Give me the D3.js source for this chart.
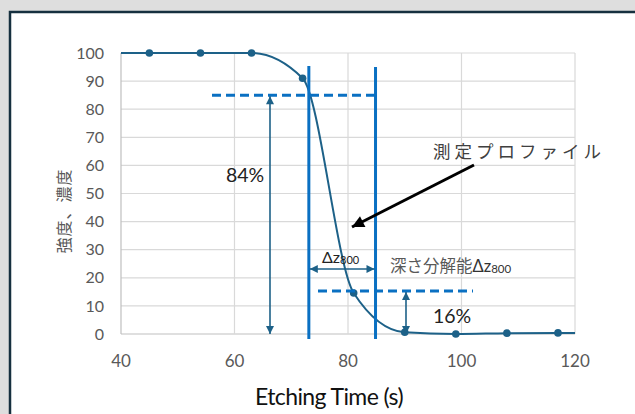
<!DOCTYPE html>
<html><head><meta charset="utf-8">
<script src="https://cdn.jsdelivr.net/npm/d3@7"></script>
<style>
html,body{margin:0;padding:0;background:#dedede;}
svg{display:block;}
</style></head>
<body>
<svg id="c" width="635" height="414"></svg>
<script>
// ---- data ----
const pointTimes = [45, 54, 63, 72, 81, 90, 99, 108, 117];
const pointValues = [100, 100, 100, 91, 14.6, 0.6, 0, 0.3, 0.4];
const curveTimes = [40, 45, 54, 63, 72, 81, 90, 99, 108, 117, 120];
const curveValues = [100, 100, 100, 100, 91, 14.6, 0.6, 0, 0.3, 0.4, 0.4];
const xTicks = [40, 60, 80, 100, 120];
const yTicks = [0, 10, 20, 30, 40, 50, 60, 70, 80, 90, 100];
const level84 = 85;      // upper dashed level
const level16 = 15.3;    // lower dashed level
const zStart = 73.1;     // Δz start time
const zEnd = 84.85;      // Δz end time

const svg = d3.select("#c");
svg.append("rect").attr("x",0).attr("y",0).attr("width",635).attr("height",414).attr("fill","#dedede");
svg.append("rect").attr("x",10).attr("y",12).attr("width",640).attr("height",420)
  .attr("fill","#fff").attr("stroke","#16303f").attr("stroke-width",2.5);

const x = d3.scaleLinear().domain([40,120]).range([121,575]);
const y = d3.scaleLinear().domain([0,100]).range([334,53]);

const grid = svg.append("g");
yTicks.forEach(t=>{
  grid.append("line").attr("x1",x(40)).attr("x2",x(120)).attr("y1",y(t)).attr("y2",y(t))
    .attr("stroke", t===0?"#bfbfbf":"#d9d9d9").attr("stroke-width",1.2);
});
xTicks.forEach(t=>{
  grid.append("line").attr("x1",x(t)).attr("x2",x(t)).attr("y1",y(0)).attr("y2",y(100))
    .attr("stroke", t===40?"#bfbfbf":"#d9d9d9").attr("stroke-width",1.2);
});

const tickFont = "Lato, 'Open Sans', sans-serif";
svg.append("g").selectAll("text").data(yTicks).join("text")
  .attr("x",104).attr("y",d=>y(d)).attr("dy","0.35em").attr("text-anchor","end")
  .attr("font-family",tickFont).attr("font-size",16).attr("fill","#595959").text(d=>d);
svg.append("g").selectAll("text").data(xTicks).join("text")
  .attr("x",d=>x(d)).attr("y",361).attr("dy","0.35em").attr("text-anchor","middle")
  .attr("font-family",tickFont).attr("font-size",17).attr("fill","#595959").text(d=>d);

svg.append("text").attr("transform","translate(64,211) rotate(-90)")
  .attr("text-anchor","middle").attr("dy","0.35em")
  .attr("font-family","'Noto Sans CJK JP', sans-serif").attr("font-size",16).attr("fill","#595959")
  .attr("letter-spacing","1").text("強度、濃度");
svg.append("text").attr("x",329).attr("y",397).attr("text-anchor","middle").attr("dy","0.35em")
  .attr("font-family",tickFont).attr("font-size",23).attr("fill","#111").attr("letter-spacing","-0.6")
  .text("Etching Time (s)");

// ---- curve ----
const teal = "#1d6188";
const line = d3.line().x((d,i)=>x(curveTimes[i])).y((d,i)=>y(curveValues[i])).curve(d3.curveMonotoneX);
svg.append("path").attr("d",line(curveValues)).attr("fill","none").attr("stroke",teal).attr("stroke-width",2);
svg.append("g").selectAll("circle").data(pointValues).join("circle")
  .attr("cx",(d,i)=>x(pointTimes[i])).attr("cy",d=>y(d)).attr("r",3.8).attr("fill",teal);

// ---- defs ----
const defs = svg.append("defs");
function marker(id,color,w,h){
  defs.append("marker").attr("id",id).attr("viewBox","0 0 10 10").attr("refX",10).attr("refY",5)
    .attr("markerWidth",w).attr("markerHeight",h).attr("markerUnits","userSpaceOnUse").attr("orient","auto-start-reverse")
    .append("path").attr("d","M0,0 L10,5 L0,10 z").attr("fill",color);
}
marker("aT",teal,9,8);
marker("aK","#000",14,12);

const blue = "#0a70c2";
// dashed levels
svg.append("line").attr("x1",212).attr("x2",x(zEnd)).attr("y1",y(level84)).attr("y2",y(level84))
  .attr("stroke",blue).attr("stroke-width",3).attr("stroke-dasharray","9,5");
svg.append("line").attr("x1",318).attr("x2",473).attr("y1",y(level16)).attr("y2",y(level16))
  .attr("stroke",blue).attr("stroke-width",3).attr("stroke-dasharray","9,5");
// vertical lines
svg.append("line").attr("x1",x(zStart)).attr("x2",x(zStart)).attr("y1",66).attr("y2",339)
  .attr("stroke",blue).attr("stroke-width",3);
svg.append("line").attr("x1",x(zEnd)).attr("x2",x(zEnd)).attr("y1",67).attr("y2",339)
  .attr("stroke",blue).attr("stroke-width",3);

// arrows
svg.append("line").attr("x1",270).attr("x2",270).attr("y1",y(level84)+1).attr("y2",y(0))
  .attr("stroke",teal).attr("stroke-width",1.6).attr("marker-start","url(#aT)").attr("marker-end","url(#aT)");
svg.append("line").attr("x1",406).attr("x2",406).attr("y1",y(level16)+1).attr("y2",y(0))
  .attr("stroke",teal).attr("stroke-width",1.6).attr("marker-start","url(#aT)").attr("marker-end","url(#aT)");
svg.append("line").attr("x1",x(zStart)+1).attr("x2",x(zEnd)-1).attr("y1",269).attr("y2",269)
  .attr("stroke",teal).attr("stroke-width",1.6).attr("marker-start","url(#aT)").attr("marker-end","url(#aT)");
svg.append("line").attr("x1",474).attr("x2",352).attr("y1",165).attr("y2",227)
  .attr("stroke","#000").attr("stroke-width",3).attr("marker-end","url(#aK)");

// texts
svg.append("text").attr("x",245).attr("y",175).attr("dy","0.35em").attr("text-anchor","middle")
  .attr("font-family",tickFont).attr("font-size",19.5).attr("fill","#222").text("84%");
svg.append("text").attr("x",452).attr("y",316).attr("dy","0.35em").attr("text-anchor","middle")
  .attr("font-family",tickFont).attr("font-size",19.5).attr("fill","#222").text("16%");
const dz = svg.append("text").attr("x",322).attr("y",257).attr("dy","0.35em")
  .attr("font-family",tickFont).attr("font-size",16).attr("fill","#222");
dz.append("tspan").text("Δz");
dz.append("tspan").attr("font-size",11).attr("dy","1").text("800");
const res = svg.append("text").attr("x",390).attr("y",266).attr("dy","0.35em")
  .attr("font-family","'Noto Sans CJK JP', sans-serif").attr("font-size",16.5).attr("fill","#595959");
res.append("tspan").text("深さ分解能");
res.append("tspan").attr("font-family",tickFont).attr("fill","#333").text("Δz");
res.append("tspan").attr("font-family",tickFont).attr("fill","#333").attr("font-size",11.5).attr("dy","1").text("800");
svg.append("text").attr("x",433).attr("y",152).attr("dy","0.35em")
  .attr("font-family","'Noto Sans CJK JP', sans-serif").attr("font-size",17.5).attr("fill","#404040")
  .attr("letter-spacing","4").text("測定プロファイル");
</script>
</body></html>
